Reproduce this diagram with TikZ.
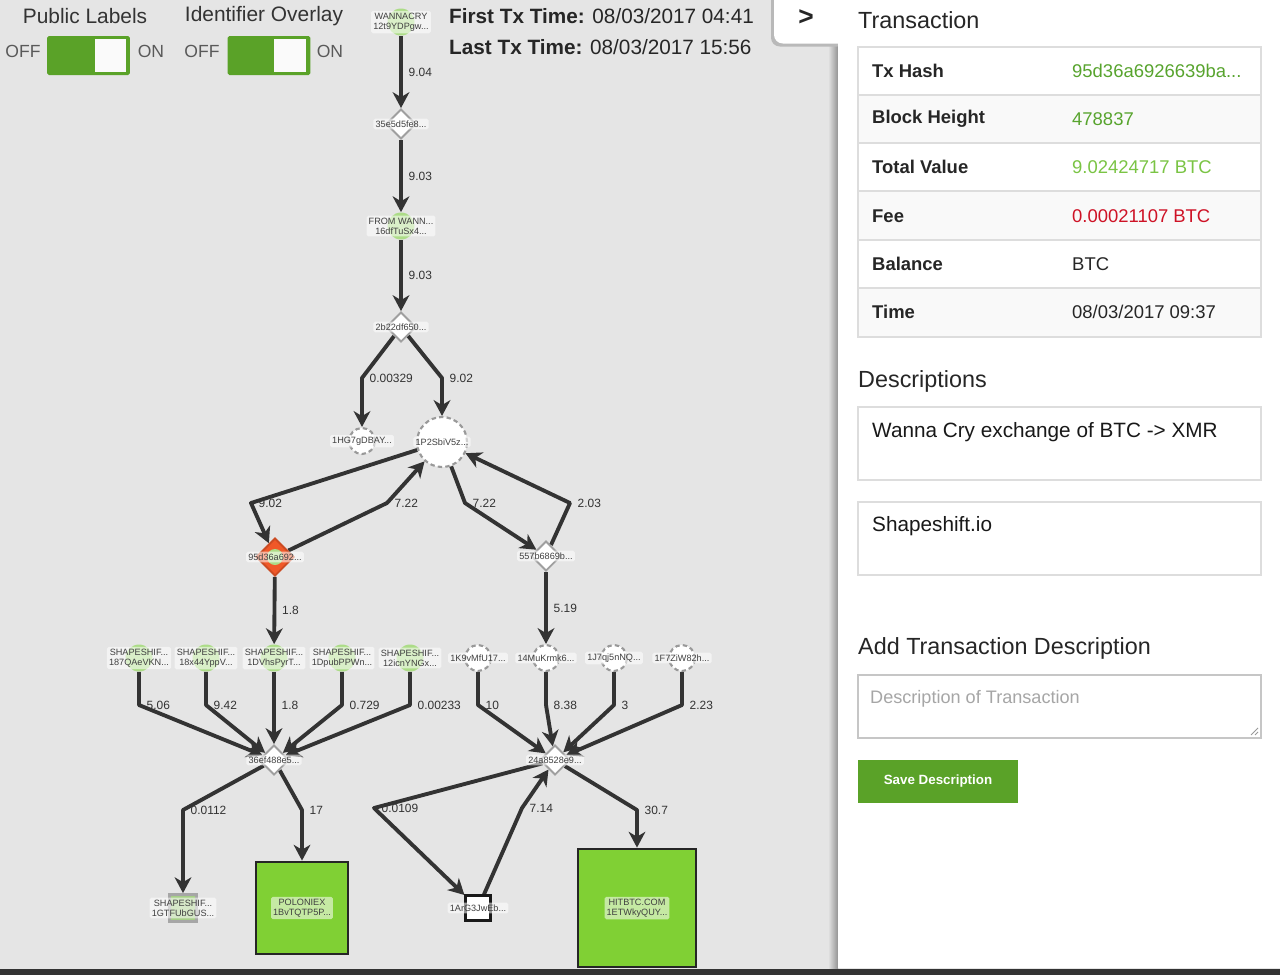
\documentclass[tikz,border=0pt]{standalone}
\usepackage{fontspec}
\setmainfont{Liberation Sans}
\usepackage{xcolor}
\usetikzlibrary{shapes,arrows.meta,positioning,calc,backgrounds}

\definecolor{bggray}{RGB}{229,229,229}
\definecolor{edgegray}{RGB}{51,51,51}
\definecolor{togglegreen}{RGB}{90,162,40}
\definecolor{blobgreen}{RGB}{172,220,135}
\definecolor{boxgreen}{RGB}{128,208,52}
\definecolor{hashgreen}{RGB}{88,164,46}
\definecolor{valgreen}{RGB}{122,196,68}
\definecolor{feered}{RGB}{206,18,38}
\definecolor{rowgray}{RGB}{249,249,249}
\definecolor{linegray}{RGB}{221,221,221}
\definecolor{txdred}{RGB}{240,88,40}

\tikzset{
  toptxt/.style={font=\fontsize{11.9}{14}\selectfont, text=black!80},
  offon/.style={font=\fontsize{10}{12}\selectfont, text=black!65},
  toggle/.style={fill=togglegreen, rounded corners=1pt, minimum width=1.66cm, minimum height=0.78cm, inner sep=0},
  knob/.style={fill=white!96!gray, minimum width=0.64cm, minimum height=0.66cm, inner sep=0},
  timetxt/.style={anchor=west, font=\fontsize{11.8}{14}\selectfont, text=black!85},
  txlbl/.style={fill=white, fill opacity=0.55, text opacity=1, inner sep=1.2pt, rounded corners=1pt, align=center, font=\fontsize{5.2}{5.7}\selectfont, text=black!75},
  blob/.style={circle, fill=blobgreen, minimum size=0.54cm, inner sep=0},
  txd/.style={diamond, draw=gray!75, line width=1.1pt, fill=white, minimum size=0.6cm, inner sep=0},
  addr/.style={circle, draw=gray!80, dash pattern=on 2.5pt off 1.8pt, line width=1.2pt, fill=white, minimum size=0.52cm, inner sep=0},
  flow/.style={line width=2.2pt, draw=edgegray, line join=round, -{Stealth[length=9pt, width=9.5pt, inset=2.8pt]}},
  elbl/.style={anchor=west, xshift=0.08cm, inner sep=1pt, font=\fontsize{6.8}{8}\selectfont, text=black!80},
  tkey/.style={anchor=west, font={\fontsize{10.5}{12}\selectfont\bfseries}, text=black!85},
  tval/.style={anchor=west, font=\fontsize{10.5}{12}\selectfont, text=black!85},
  h2/.style={anchor=west, font=\fontsize{13.3}{15}\selectfont, text=black!85},
  dtxt/.style={anchor=west, font=\fontsize{11.8}{14}\selectfont, text=black!90},
}

\begin{document}
\begin{tikzpicture}[x=0.02cm, y=-0.02cm]
\useasboundingbox (0,0) rectangle (1280,975);

% page, panel and tab
\begin{scope}[on background layer]
  \fill[bggray] (0,0) rectangle (1280,975);
  \shade[left color=bggray, right color=gray!85] (828,40) rectangle (838,968);
  \fill[gray!55, rounded corners=5pt] (771,-10) rectangle (846,46.5);
  \fill[white, rounded corners=5pt] (774,-10) rectangle (850,43.5);
  \fill[white] (838,0) rectangle (1280,968);
  \fill[black!80] (0,969) rectangle (1280,975);
\end{scope}

% switches
\node (pubT) [toptxt] at (85,16) {Public Labels};
\node (idT) [toptxt] at (264,16) {Identifier Overlay};
\node (offA) [offon] at (23,51) {OFF};
\node (togA) [toggle] at (88.5,55.5) {};
\node (knobA) [knob] at (110.5,55.5) {};
\node (onA) [offon] at (151,51) {ON};
\node (offB) [offon] at (202,51) {OFF};
\node (togB) [toggle] at (269,55.5) {};
\node (knobB) [knob] at (289.5,55.5) {};
\node (onB) [offon] at (330,51) {ON};

\node (firstT) [timetxt] at (443,16) {\textbf{First Tx Time:} 08/03/2017 04:41};
\node (lastT) [timetxt] at (443,47) {\textbf{Last Tx Time:} 08/03/2017 15:56};

% graph
\node (wanna) [blob] at (401,22) {};
\node (wannaL) [txlbl] at (wanna) {WANNACRY\\12t9YDPgw...};
\node (tx35) [txd] at (401,124) {};
\node (tx35L) [txlbl] at (tx35) {35e5d5fe8...};
\node (fromw) [blob] at (401,226) {};
\node (fromwL) [txlbl] at (fromw) {FROM WANN...\\16dfTuSx4...};
\node (tx2b) [txd] at (401,327) {};
\node (tx2bL) [txlbl] at (tx2b) {2b22df650...};

\node (n1HG) [addr] at (362,441) {};
\node (n1HGL) [txlbl] at (n1HG) {1HG7gDBAY...};
\node (n1P2) [addr, minimum size=1.0cm] at (442,442) {};
\node (n1P2L) [txlbl] at (n1P2) {1P2SbiV5z...};

\node (tx95) [txd, fill=txdred, draw=txdred!85!black, minimum size=0.76cm] at (275,557) {};
\node (tx95g) [blob, minimum size=0.32cm] at (tx95) {};
\node (tx95L) [txlbl] at (tx95) {95d36a692...};
\node (tx557) [txd] at (546,556) {};
\node (tx557L) [txlbl] at (tx557) {557b6869b...};

\node (ssA) [blob] at (139,658) {};
\node (ssAL) [txlbl] at (ssA) {SHAPESHIF...\\187QAeVKN...};
\node (ssB) [blob] at (206,658) {};
\node (ssBL) [txlbl] at (ssB) {SHAPESHIF...\\18x44YppV...};
\node (ssC) [blob] at (274,658) {};
\node (ssCL) [txlbl] at (ssC) {SHAPESHIF...\\1DVhsPyrT...};
\node (ssD) [blob] at (342,658) {};
\node (ssDL) [txlbl] at (ssD) {SHAPESHIF...\\1DpubPPWn...};
\node (ssE) [blob] at (410,658) {};
\node (ssEL) [txlbl] at (ssE) {SHAPESHIF...\\12icnYNGx...};

\node (d1K9) [addr] at (478,658) {};
\node (d1K9L) [txlbl] at (d1K9) {1K9vMfU17...};
\node (d14Mu) [addr] at (546,658) {};
\node (d14MuL) [txlbl] at (d14Mu) {14MuKrmk6...};
\node (d1J7) [addr] at (614,658) {};
\node (d1J7L) [txlbl] at (d1J7) {1J7qj5nNQ...};
\node (d1F7) [addr] at (682,658) {};
\node (d1F7L) [txlbl] at (d1F7) {1F7ZiW82h...};

\node (tx36) [txd] at (274,760) {};
\node (tx36L) [txlbl] at (tx36) {36ef488e5...};
\node (tx24) [txd] at (555,760) {};
\node (tx24L) [txlbl] at (tx24) {24a8528e9...};

\node (ssG) [rectangle, fill=blobgreen!85!gray, draw=gray!70, line width=1.6pt, minimum size=0.54cm, inner sep=0] at (183,908) {};
\node (ssGL) [txlbl] at (ssG) {SHAPESHIF...\\1GTFUbGUS...};
\node (polo) [rectangle, fill=boxgreen, draw=black!85, line width=1.6pt, minimum size=1.84cm, inner sep=0] at (302,908) {};
\node (poloL) [txlbl] at (polo) {POLONIEX\\1BvTQTP5P...};
\node (n1Ar) [rectangle, fill=white, draw=black!90, line width=1.2pt, minimum size=0.5cm, inner sep=0] at (478,908) {};
\node (n1ArL) [txlbl] at (n1Ar) {1ArG3JwEb...};
\node (hitbtc) [rectangle, fill=boxgreen, draw=black!85, line width=1.6pt, minimum size=2.36cm, inner sep=0] at (637,908) {};
\node (hitbtcL) [txlbl] at (hitbtc) {HITBTC.COM\\1ETWkyQUY...};

\begin{scope}[on background layer]
  \draw[flow] (wanna) -- node[elbl] {9.04} (tx35);
  \draw[flow] (tx35) -- node[elbl] {9.03} (fromw);
  \draw[flow] (fromw) -- node[elbl] {9.03} (tx2b);
  \draw[flow] (tx2b) -- (362,378) node[elbl] {0.00329} -- (n1HG);
  \draw[flow] (tx2b) -- (442,378) node[elbl] {9.02} -- (n1P2);
  \draw[flow] (n1P2) -- (251,503) node[elbl] {9.02} -- (tx95);
  \draw[flow] (tx95) -- (387,503) node[elbl] {7.22} -- (n1P2);
  \draw[flow] (n1P2) -- (465,503) node[elbl] {7.22} -- (tx557);
  \draw[flow] (tx557) -- (570,503) node[elbl] {2.03} -- (n1P2);
  \draw[flow] (tx95) -- node[elbl] {1.8} (ssC);
  \draw[flow] (tx557) -- node[elbl] {5.19} (d14Mu);
  \draw[flow] (ssA) -- (139,705) node[elbl] {5.06} -- (tx36);
  \draw[flow] (ssB) -- (206,705) node[elbl] {9.42} -- (tx36);
  \draw[flow] (ssC) -- (274,705) node[elbl] {1.8} -- (tx36);
  \draw[flow] (ssD) -- (342,705) node[elbl] {0.729} -- (tx36);
  \draw[flow] (ssE) -- (410,705) node[elbl] {0.00233} -- (tx36);
  \draw[flow] (d1K9) -- (478,705) node[elbl] {10} -- (tx24);
  \draw[flow] (d14Mu) -- (546,705) node[elbl] {8.38} -- (tx24);
  \draw[flow] (d1J7) -- (614,705) node[elbl] {3} -- (tx24);
  \draw[flow] (d1F7) -- (682,705) node[elbl] {2.23} -- (tx24);
  \draw[flow] (tx36) -- (183,810) node[elbl] {0.0112} -- (ssG);
  \draw[flow] (tx36) -- (302,810) node[elbl] {17} -- (polo);
  \draw[flow] (tx24) -- (374,808) node[elbl] {0.0109} -- (n1Ar);
  \draw[flow] (n1Ar) -- (522,808) node[elbl] {7.14} -- (tx24);
  \draw[flow] (tx24) -- (637,810) node[elbl] {30.7} -- (hitbtc);
\end{scope}

% side panel
\node (tabArrow) [font={\fontsize{15}{16}\selectfont\bfseries}, text=black!85] at (806,18) {>};
\node (txTitle) [h2] at (852,20) {Transaction};

\draw[linegray, fill=white] (858,47) rectangle (1261,337);
\fill[rowgray] (858,95) rectangle (1261,143);
\fill[rowgray] (858,191) rectangle (1261,240);
\fill[rowgray] (858,288) rectangle (1261,337);
\draw[linegray, line width=0.8pt] (858,47) rectangle (1261,337);
\draw[linegray, line width=0.8pt] (858,95) -- (1261,95) (858,143) -- (1261,143) (858,191) -- (1261,191) (858,240) -- (1261,240) (858,288) -- (1261,288);

\node (kHash) [tkey] at (866,71) {Tx Hash};
\node (vHash) [tval, text=hashgreen] at (1066,71) {95d36a6926639ba...};
\node (kBlock) [tkey] at (866,119) {Block Height};
\node (vBlock) [tval, text=hashgreen] at (1066,119) {478837};
\node (kTotal) [tkey] at (866,167) {Total Value};
\node (vTotal) [tval, text=valgreen] at (1066,167) {9.02424717 BTC};
\node (kFee) [tkey] at (866,216) {Fee};
\node (vFee) [tval, text=feered] at (1066,216) {0.00021107 BTC};
\node (kBal) [tkey] at (866,264) {Balance};
\node (vBal) [tval] at (1066,264) {BTC};
\node (kTime) [tkey] at (866,312) {Time};
\node (vTime) [tval] at (1066,312) {08/03/2017 09:37};

\node (descT) [h2] at (852,381) {Descriptions};
\draw[linegray, line width=0.8pt] (858,407) rectangle (1261,480);
\node (desc1) [dtxt] at (866,432) {Wanna Cry exchange of BTC -> XMR};
\draw[linegray, line width=0.8pt] (858,502) rectangle (1261,575);
\node (desc2) [dtxt] at (866,526) {Shapeshift.io};

\node (addT) [h2] at (852,648) {Add Transaction Description};
\draw[gray!45, line width=1pt] (858,675) rectangle (1261,738);
\node (placeT) [tval, text=gray!70, font=\fontsize{10.3}{12}\selectfont] at (864,699) {Description of Transaction};
\draw[gray!80, line width=0.5pt] (1251,735) -- (1258,728) (1255,735) -- (1258,732);
\fill[togglegreen] (858,760) rectangle (1018,803);
\node (saveB) [font={\fontsize{7.6}{9}\selectfont\bfseries}, text=white] at (938,781) {Save Description};
\end{tikzpicture}
\end{document}
